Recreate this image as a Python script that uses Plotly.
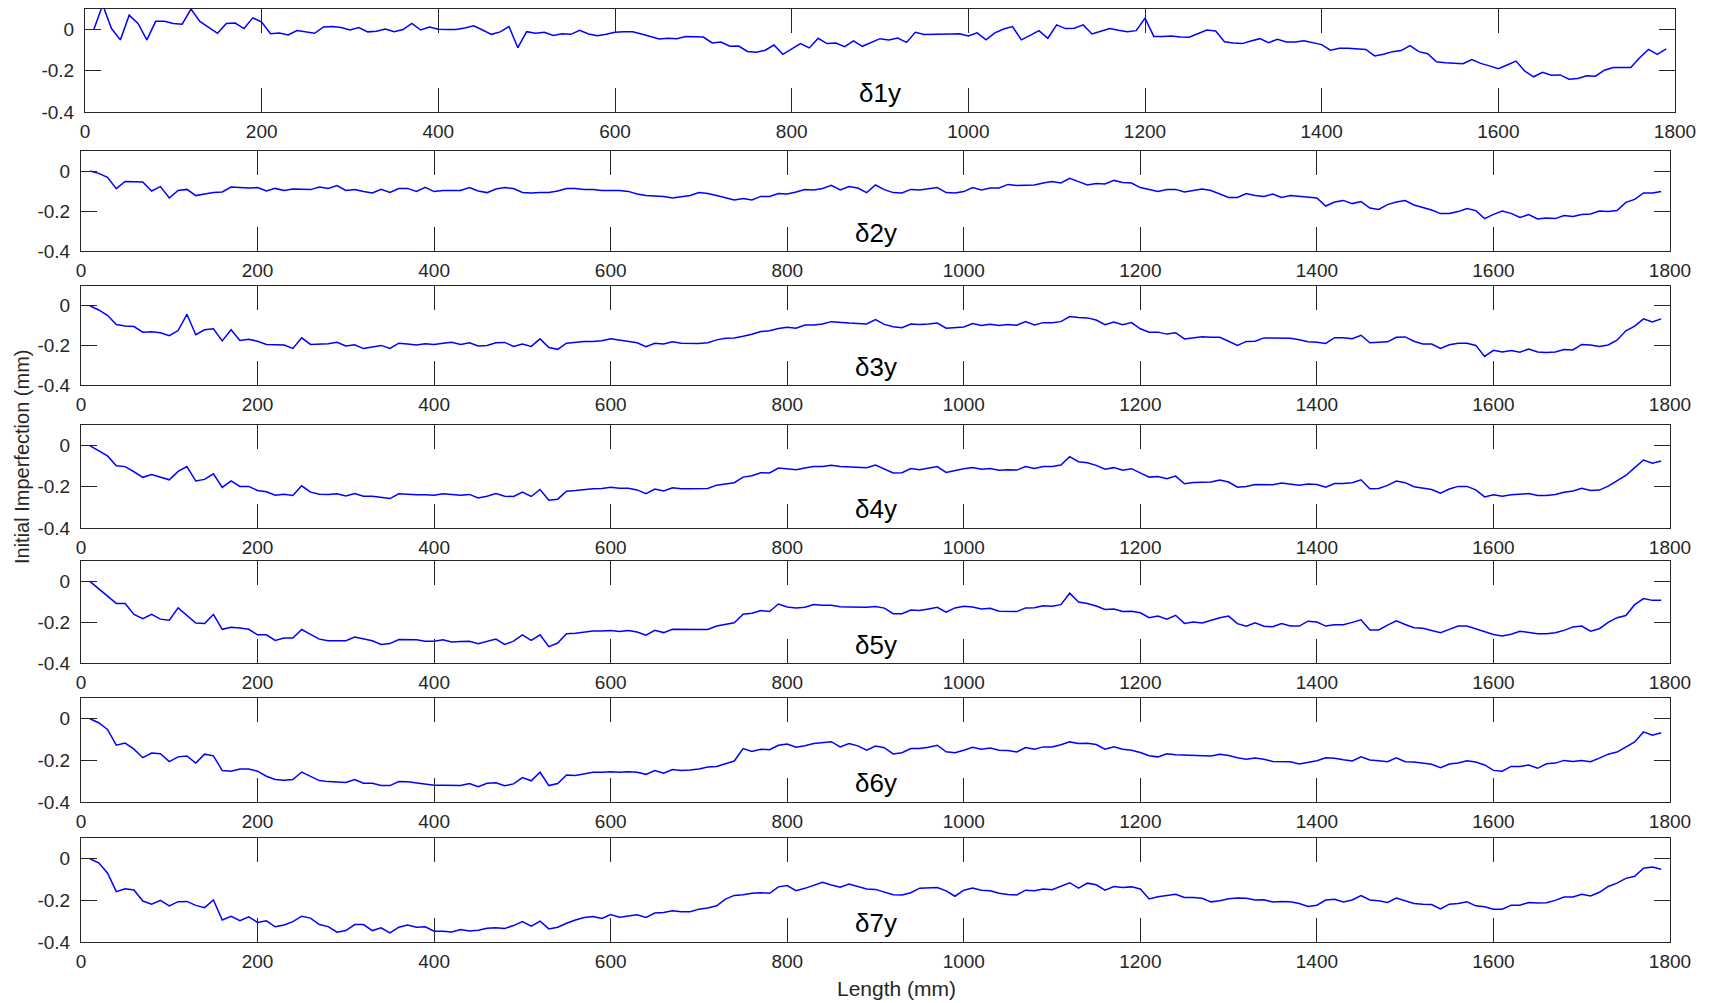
import plotly.graph_objects as go
from plotly.subplots import make_subplots

# Measurement stations along the member (mm)
length_mm = list(range(10, 1800, 10))

# Initial imperfection profiles (mm) for the seven measuring lines
d1y = [0, 0.12, 0.005, -0.05, 0.07, 0.03, -0.05, 0.04, 0.04, 0.03,
       0.026, 0.10, 0.04, 0.01, -0.018, 0.03, 0.032, 0.005, 0.057, 0.037,
       -0.02, -0.017, -0.026, -0.005, -0.01, -0.018, 0.013, 0.015, 0.01, -0.002,
       0.01, -0.011, -0.008, 0.003, -0.01, 0, 0.03, -0.002, 0.013, 0.002,
       0, 0, 0.008, 0.018, -0.002, -0.023, -0.011, 0.015, -0.088, -0.01,
       -0.018, -0.013, -0.028, -0.02, -0.023, -0.003, -0.021, -0.03, -0.023, -0.013,
       -0.011, -0.011, -0.021, -0.033, -0.046, -0.042, -0.044, -0.034, -0.036, -0.036,
       -0.065, -0.06, -0.081, -0.08, -0.106, -0.11, -0.1, -0.075, -0.12, -0.096,
       -0.068, -0.089, -0.042, -0.068, -0.065, -0.083,
       -0.055, -0.081, -0.063, -0.044, -0.05, -0.041, -0.062, -0.013, -0.024, -0.024,
       -0.023, -0.021, -0.02, -0.031, -0.016, -0.05, -0.016, 0.003, 0.015, -0.05,
       -0.028, -0.005, -0.042, 0.023, 0.005, 0.007, 0.023, -0.021, -0.008, 0.005,
       -0.003, -0.01, -0.005, 0.055, -0.033, -0.034, -0.031, -0.036, -0.037, -0.02,
       -0.002, -0.007, -0.059, -0.065, -0.068, -0.055, -0.044, -0.063, -0.047, -0.06,
       -0.06, -0.054, -0.062, -0.073, -0.1, -0.091, -0.091, -0.094, -0.096, -0.128,
       -0.12, -0.107, -0.102, -0.078, -0.107, -0.117, -0.156, -0.161, -0.163, -0.166,
       -0.146, -0.164, -0.176, -0.19, -0.172, -0.153, -0.202, -0.229, -0.207, -0.221,
       -0.22, -0.241, -0.237, -0.224, -0.226, -0.197, -0.184, -0.185, -0.184, -0.137,
       -0.096, -0.12, -0.093]

d2y = [0, -0.012, -0.032, -0.088, -0.052, -0.055, -0.055, -0.1, -0.078, -0.135,
       -0.097, -0.092, -0.123, -0.115, -0.107, -0.105, -0.08, -0.082, -0.085, -0.083,
       -0.1, -0.087, -0.098, -0.09, -0.093, -0.093, -0.08, -0.087, -0.073, -0.097,
       -0.092, -0.103, -0.11, -0.092, -0.107, -0.088, -0.087, -0.102, -0.082, -0.103,
       -0.098, -0.098, -0.097, -0.083, -0.1, -0.108, -0.09, -0.083, -0.088, -0.107,
       -0.11, -0.107, -0.107, -0.1, -0.088, -0.088, -0.092, -0.092, -0.097, -0.097,
       -0.097, -0.102, -0.115, -0.123, -0.125, -0.127, -0.135, -0.127, -0.122, -0.108,
       -0.112, -0.123, -0.135, -0.145, -0.138, -0.145, -0.127, -0.127, -0.113, -0.115,
       -0.105, -0.093, -0.095, -0.087, -0.072, -0.095,
       -0.078, -0.085, -0.108, -0.07, -0.093, -0.108, -0.11, -0.092, -0.095, -0.09,
       -0.083, -0.108, -0.11, -0.103, -0.083, -0.095, -0.085, -0.085, -0.067, -0.072,
       -0.072, -0.07, -0.06, -0.052, -0.06, -0.037, -0.053, -0.07, -0.063, -0.065,
       -0.047, -0.057, -0.06, -0.083, -0.093, -0.102, -0.093, -0.092, -0.105, -0.097,
       -0.09, -0.098, -0.115, -0.132, -0.132, -0.113, -0.123, -0.127, -0.115, -0.132,
       -0.123, -0.127, -0.133, -0.135, -0.175, -0.155, -0.147, -0.163, -0.153, -0.185,
       -0.192, -0.168, -0.155, -0.148, -0.17, -0.182, -0.195, -0.213, -0.212, -0.203,
       -0.188, -0.198, -0.238, -0.217, -0.2, -0.212, -0.232, -0.218, -0.24, -0.235,
       -0.238, -0.223, -0.228, -0.218, -0.215, -0.2, -0.202, -0.198, -0.157, -0.142,
       -0.11, -0.11, -0.102]

d3y = [0, -0.021, -0.048, -0.095, -0.102, -0.105, -0.133, -0.131, -0.136, -0.151,
       -0.125, -0.043, -0.146, -0.121, -0.116, -0.177, -0.121, -0.175, -0.169, -0.179,
       -0.195, -0.197, -0.198, -0.215, -0.162, -0.195, -0.195, -0.192, -0.184, -0.203,
       -0.197, -0.216, -0.208, -0.2, -0.215, -0.189, -0.193, -0.198, -0.192, -0.195,
       -0.189, -0.184, -0.195, -0.187, -0.203, -0.2, -0.187, -0.185, -0.205, -0.193,
       -0.205, -0.167, -0.211, -0.22, -0.189, -0.185, -0.18, -0.18, -0.177, -0.167,
       -0.174, -0.179, -0.187, -0.207, -0.189, -0.193, -0.182, -0.189, -0.19, -0.19,
       -0.187, -0.172, -0.164, -0.162, -0.154, -0.144, -0.13, -0.126, -0.115, -0.108,
       -0.113, -0.097, -0.097, -0.092, -0.08, -0.085,
       -0.087, -0.089, -0.092, -0.07, -0.094, -0.106, -0.111, -0.092, -0.095, -0.092,
       -0.087, -0.113, -0.111, -0.107, -0.09, -0.1, -0.093, -0.1, -0.095, -0.098,
       -0.079, -0.097, -0.085, -0.085, -0.08, -0.054, -0.059, -0.061, -0.072, -0.095,
       -0.082, -0.095, -0.085, -0.116, -0.133, -0.133, -0.143, -0.136, -0.167, -0.162,
       -0.156, -0.159, -0.159, -0.179, -0.2, -0.18, -0.179, -0.162, -0.162, -0.162,
       -0.164, -0.172, -0.182, -0.184, -0.19, -0.161, -0.161, -0.166, -0.149, -0.187,
       -0.185, -0.182, -0.159, -0.157, -0.179, -0.193, -0.193, -0.215, -0.197, -0.189,
       -0.189, -0.2, -0.256, -0.225, -0.233, -0.226, -0.234, -0.218, -0.233, -0.236,
       -0.233, -0.221, -0.223, -0.195, -0.198, -0.205, -0.198, -0.174, -0.126, -0.103,
       -0.066, -0.082, -0.066]

d4y = [0, -0.024, -0.05, -0.098, -0.102, -0.127, -0.154, -0.141, -0.153, -0.166,
       -0.125, -0.102, -0.172, -0.164, -0.137, -0.203, -0.171, -0.198, -0.198, -0.218,
       -0.224, -0.241, -0.236, -0.242, -0.195, -0.226, -0.236, -0.237, -0.234, -0.244,
       -0.233, -0.246, -0.246, -0.252, -0.257, -0.234, -0.237, -0.239, -0.239, -0.241,
       -0.234, -0.237, -0.241, -0.237, -0.254, -0.246, -0.233, -0.246, -0.247, -0.226,
       -0.247, -0.213, -0.265, -0.26, -0.221, -0.218, -0.213, -0.21, -0.208, -0.202,
       -0.207, -0.207, -0.215, -0.233, -0.211, -0.22, -0.205, -0.21, -0.21, -0.21,
       -0.208, -0.192, -0.185, -0.18, -0.153, -0.146, -0.132, -0.133, -0.109, -0.112,
       -0.117, -0.109, -0.102, -0.102, -0.096, -0.102,
       -0.104, -0.104, -0.107, -0.094, -0.113, -0.133, -0.132, -0.111, -0.117, -0.111,
       -0.102, -0.13, -0.12, -0.112, -0.106, -0.115, -0.111, -0.12, -0.117, -0.119,
       -0.102, -0.111, -0.101, -0.101, -0.094, -0.054, -0.078, -0.083, -0.096, -0.115,
       -0.107, -0.12, -0.112, -0.133, -0.153, -0.15, -0.161, -0.148, -0.185, -0.179,
       -0.179, -0.177, -0.167, -0.177, -0.202, -0.198, -0.189, -0.189, -0.19, -0.182,
       -0.189, -0.193, -0.187, -0.189, -0.202, -0.184, -0.184, -0.18, -0.166, -0.21,
       -0.208, -0.193, -0.172, -0.18, -0.2, -0.208, -0.213, -0.231, -0.211, -0.198,
       -0.198, -0.215, -0.249, -0.239, -0.246, -0.239, -0.237, -0.233, -0.242, -0.242,
       -0.237, -0.226, -0.22, -0.207, -0.218, -0.216, -0.197, -0.172, -0.145, -0.107,
       -0.07, -0.085, -0.075]

d5y = [0, -0.037, -0.074, -0.108, -0.108, -0.162, -0.183, -0.162, -0.185, -0.19,
       -0.13, -0.169, -0.204, -0.206, -0.162, -0.235, -0.225, -0.228, -0.235, -0.262,
       -0.262, -0.289, -0.278, -0.278, -0.236, -0.26, -0.283, -0.291, -0.291, -0.291,
       -0.273, -0.281, -0.291, -0.309, -0.305, -0.285, -0.286, -0.286, -0.293, -0.293,
       -0.286, -0.297, -0.294, -0.293, -0.305, -0.294, -0.283, -0.309, -0.293, -0.262,
       -0.289, -0.262, -0.32, -0.302, -0.257, -0.254, -0.249, -0.243, -0.243, -0.241,
       -0.246, -0.241, -0.248, -0.264, -0.24, -0.251, -0.235, -0.236, -0.236, -0.235,
       -0.236, -0.219, -0.211, -0.203, -0.161, -0.156, -0.143, -0.148, -0.111, -0.125,
       -0.13, -0.127, -0.113, -0.117, -0.117, -0.124,
       -0.125, -0.125, -0.127, -0.123, -0.131, -0.158, -0.158, -0.14, -0.143, -0.135,
       -0.127, -0.151, -0.13, -0.122, -0.125, -0.135, -0.132, -0.146, -0.146, -0.148,
       -0.13, -0.129, -0.119, -0.122, -0.114, -0.058, -0.101, -0.108, -0.121, -0.138,
       -0.135, -0.148, -0.146, -0.154, -0.178, -0.17, -0.185, -0.166, -0.206, -0.199,
       -0.204, -0.191, -0.178, -0.17, -0.207, -0.22, -0.203, -0.22, -0.222, -0.207,
       -0.219, -0.219, -0.195, -0.199, -0.219, -0.212, -0.212, -0.201, -0.188, -0.238,
       -0.238, -0.214, -0.193, -0.211, -0.227, -0.23, -0.24, -0.252, -0.235, -0.219,
       -0.219, -0.233, -0.246, -0.26, -0.267, -0.259, -0.244, -0.252, -0.257, -0.257,
       -0.252, -0.24, -0.223, -0.219, -0.244, -0.232, -0.201, -0.178, -0.167, -0.114,
       -0.084, -0.093, -0.092]

d6y = [0, -0.019, -0.051, -0.127, -0.117, -0.146, -0.187, -0.165, -0.168, -0.206,
       -0.183, -0.179, -0.213, -0.17, -0.178, -0.249, -0.252, -0.241, -0.241, -0.252,
       -0.276, -0.292, -0.295, -0.292, -0.256, -0.278, -0.297, -0.302, -0.305, -0.306,
       -0.292, -0.31, -0.31, -0.321, -0.321, -0.302, -0.303, -0.308, -0.316, -0.319,
       -0.319, -0.321, -0.321, -0.311, -0.327, -0.31, -0.308, -0.322, -0.313, -0.283,
       -0.298, -0.257, -0.321, -0.311, -0.27, -0.273, -0.265, -0.257, -0.257, -0.254,
       -0.257, -0.254, -0.257, -0.267, -0.249, -0.262, -0.244, -0.249, -0.246, -0.241,
       -0.232, -0.229, -0.216, -0.203, -0.143, -0.157, -0.146, -0.149, -0.127, -0.121,
       -0.137, -0.13, -0.119, -0.113, -0.11, -0.135,
       -0.119, -0.13, -0.151, -0.131, -0.139, -0.169, -0.163, -0.143, -0.143, -0.137,
       -0.127, -0.159, -0.163, -0.151, -0.137, -0.146, -0.14, -0.151, -0.152, -0.159,
       -0.138, -0.146, -0.135, -0.135, -0.125, -0.111, -0.119, -0.117, -0.124, -0.146,
       -0.135, -0.146, -0.151, -0.162, -0.178, -0.183, -0.168, -0.173, -0.175, -0.176,
       -0.178, -0.179, -0.17, -0.176, -0.187, -0.195, -0.189, -0.194, -0.205, -0.205,
       -0.206, -0.217, -0.21, -0.202, -0.187, -0.19, -0.197, -0.203, -0.183, -0.198,
       -0.202, -0.206, -0.187, -0.206, -0.208, -0.213, -0.219, -0.235, -0.217, -0.213,
       -0.202, -0.208, -0.222, -0.248, -0.252, -0.229, -0.229, -0.222, -0.238, -0.216,
       -0.213, -0.2, -0.205, -0.2, -0.206, -0.189, -0.17, -0.16, -0.135, -0.111,
       -0.063, -0.079, -0.067]

d7y = [0, -0.019, -0.068, -0.158, -0.144, -0.15, -0.203, -0.218, -0.2, -0.226,
       -0.206, -0.205, -0.224, -0.235, -0.198, -0.294, -0.277, -0.298, -0.279, -0.306,
       -0.298, -0.327, -0.318, -0.302, -0.276, -0.285, -0.316, -0.326, -0.353, -0.345,
       -0.316, -0.316, -0.345, -0.332, -0.356, -0.329, -0.318, -0.329, -0.327, -0.348,
       -0.348, -0.352, -0.34, -0.347, -0.344, -0.334, -0.331, -0.335, -0.321, -0.302,
       -0.324, -0.3, -0.337, -0.329, -0.31, -0.294, -0.282, -0.277, -0.287, -0.268,
       -0.281, -0.274, -0.269, -0.282, -0.261, -0.258, -0.25, -0.255, -0.255, -0.242,
       -0.237, -0.226, -0.194, -0.176, -0.173, -0.166, -0.163, -0.166, -0.135, -0.129,
       -0.153, -0.142, -0.129, -0.113, -0.126, -0.137,
       -0.121, -0.134, -0.145, -0.147, -0.161, -0.173, -0.174, -0.163, -0.141, -0.141,
       -0.138, -0.154, -0.18, -0.151, -0.141, -0.151, -0.154, -0.166, -0.172, -0.174,
       -0.151, -0.154, -0.145, -0.149, -0.132, -0.115, -0.141, -0.117, -0.125, -0.151,
       -0.133, -0.138, -0.135, -0.145, -0.193, -0.182, -0.176, -0.171, -0.186, -0.186,
       -0.19, -0.207, -0.202, -0.192, -0.189, -0.19, -0.198, -0.197, -0.208, -0.205,
       -0.207, -0.215, -0.229, -0.223, -0.198, -0.195, -0.207, -0.198, -0.177, -0.198,
       -0.202, -0.21, -0.189, -0.203, -0.215, -0.218, -0.22, -0.241, -0.218, -0.215,
       -0.207, -0.226, -0.231, -0.242, -0.242, -0.223, -0.223, -0.21, -0.213, -0.211,
       -0.2, -0.184, -0.184, -0.171, -0.179, -0.161, -0.133, -0.117, -0.094, -0.084,
       -0.045, -0.04, -0.05]

series = [d1y, d2y, d3y, d4y, d5y, d6y, d7y]
series_labels = ["δ1y", "δ2y", "δ3y", "δ4y", "δ5y", "δ6y", "δ7y"]

x_ticks = [0, 200, 400, 600, 800, 1000, 1200, 1400, 1600, 1800]
y_ticks = [-0.4, -0.2, 0]
y_tick_text = ["-0.4", "-0.2", "0"]

W, H = 1711, 1003
# panel boxes in pixels: (left, right, top, bottom)
boxes = [
    (85, 1675, 9, 112),
    (81, 1670, 151, 251),
    (81, 1670, 286, 385),
    (81, 1670, 425, 528),
    (81, 1670, 561, 663),
    (81, 1670, 698, 802),
    (81, 1670, 838, 942),
]

FONT = "Liberation Sans, Arial, Helvetica, sans-serif"
AXC = "#262626"

fig = make_subplots(rows=7, cols=1)

for i, (vals, lab) in enumerate(zip(series, series_labels), start=1):
    fig.add_trace(
        go.Scatter(x=length_mm, y=vals, mode="lines",
                   line=dict(color="#0000ff", width=1.5),
                   showlegend=False, hoverinfo="skip"),
        row=i, col=1)
    l, r, t, b = boxes[i - 1]
    fig.update_xaxes(
        domain=[l / W, r / W], range=[0, 1800], automargin=False,
        tickvals=x_ticks, ticks="inside", ticklen=24, tickwidth=1,
        tickcolor=AXC, showline=True, linecolor=AXC, linewidth=1,
        mirror="ticks", showgrid=False, zeroline=False,
        tickfont=dict(family=FONT, size=19, color=AXC),
        ticklabelstandoff=2,
        row=i, col=1)
    fig.update_yaxes(
        domain=[1 - b / H, 1 - t / H], range=[-0.4, 0.1], automargin=False,
        tickvals=y_ticks, ticktext=y_tick_text, ticks="inside", ticklen=16,
        tickwidth=1, tickcolor=AXC, showline=True, linecolor=AXC,
        linewidth=1, mirror="ticks", showgrid=False, zeroline=False,
        tickfont=dict(family=FONT, size=19, color=AXC),
        ticklabelstandoff=6,
        row=i, col=1)
    xr = "x" if i == 1 else f"x{i}"
    yr = "y" if i == 1 else f"y{i}"
    fig.add_annotation(x=900, y=-0.31, xref=xr, yref=yr, text=lab,
                       showarrow=False, xanchor="center", yanchor="middle",
                       font=dict(family=FONT, size=26, color="#000000"))

fig.add_annotation(x=22 / W, y=1 - 457 / H, xref="paper", yref="paper",
                   text="Initial Imperfection (mm)", textangle=-90,
                   showarrow=False, xanchor="center", yanchor="middle",
                   font=dict(family=FONT, size=20, color=AXC))
fig.add_annotation(x=897 / W, y=1 - 988 / H, xref="paper", yref="paper",
                   text="Length (mm)", showarrow=False,
                   xanchor="center", yanchor="middle",
                   font=dict(family=FONT, size=21, color=AXC))

fig.update_layout(
    width=W, height=H, margin=dict(l=0, r=0, t=0, b=0),
    paper_bgcolor="white", plot_bgcolor="white",
    font=dict(family=FONT, color=AXC),
)

fig.write_html("out.html")
